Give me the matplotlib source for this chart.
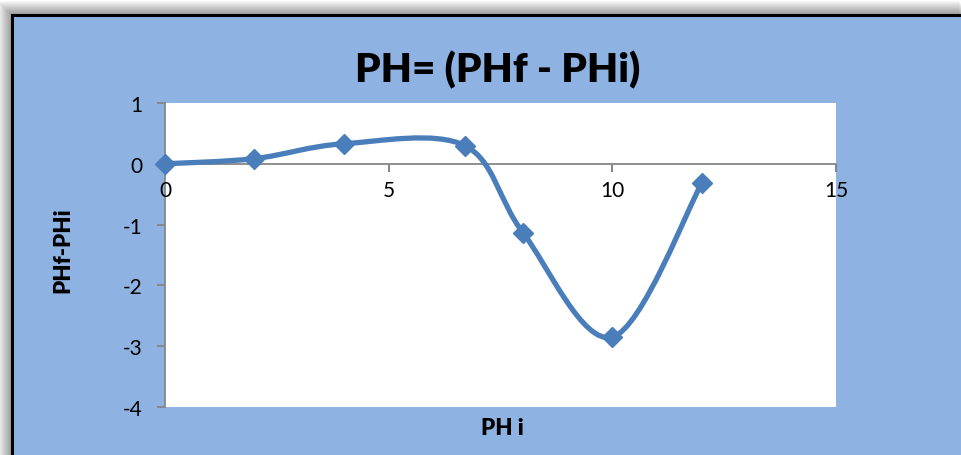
import numpy as np
import matplotlib
matplotlib.use("Agg")
import matplotlib.pyplot as plt
from matplotlib.patches import Rectangle
from matplotlib.path import Path
from matplotlib.patches import PathPatch

plt.rcParams['font.family'] = ['Lato', 'DejaVu Sans']

# pH readings
ph_initial = [0, 2, 4, 6.7, 8, 10, 12]
ph_change = [0, 0.085, 0.33, 0.30, -1.13, -2.85, -0.32]

x_ticks = [0, 5, 10, 15]
y_ticks = [-4, -3, -2, -1, 0, 1]

title_text = "PH= (PHf - PHi)"
x_label = "PH i"
y_label = "PHf-PHi"

W, H = 961, 456
fig = plt.figure(figsize=(W / 100, H / 100), dpi=100)
fig.patch.set_facecolor("white")

bg = "#8EB3E2"
line_col = "#4A7EBB"
axis_col = "#868686"

# soft shadow above and to the left of the chart frame
for i in range(14):
    off = 14 - i
    fig.patches.append(Rectangle(((12 - off) / W, 0), 1, 1 - (16 - off) / H,
                                 transform=fig.transFigure, facecolor="black",
                                 alpha=0.03, edgecolor="none", zorder=0))
# chart frame
fig.patches.append(Rectangle((12 / W, -0.01), 1.0, 1 - 16 / H + 0.01,
                             transform=fig.transFigure, facecolor=bg,
                             edgecolor="black", linewidth=2.2, zorder=1))

ax = fig.add_axes([165 / W, 1 - 408 / H, (836 - 165) / W, (408 - 104) / H])
ax.set_zorder(3)
ax.set_facecolor("white")
ax.set_xlim(0, 15)
ax.set_ylim(-4, 1)

for s in ["top", "right", "bottom"]:
    ax.spines[s].set_visible(False)
ax.spines["left"].set_color(axis_col)
ax.spines["left"].set_linewidth(1.3)
ax.axhline(0, color=axis_col, linewidth=1.3, zorder=1)

ax.set_yticks(y_ticks)
ax.set_yticklabels([str(v) for v in y_ticks], fontsize=15)
ax.tick_params(axis="y", direction="out", length=6, width=1.3, color=axis_col, pad=10)

ax.set_xticks(x_ticks)
ax.tick_params(axis="x", length=0, labelbottom=False)
for xt in x_ticks:
    ax.plot([xt, xt], [0, 0], marker=3, markersize=6, color=axis_col,
            markeredgewidth=1.3, clip_on=False, zorder=1)
    ax.annotate(str(xt), (xt, 0), xytext=(0, -12), textcoords="offset points",
                ha="center", va="top", fontsize=15)

# smooth curve through the points (Bezier with Catmull-Rom style handles, in pixel space)
fig.canvas.draw()
pts = ax.transData.transform(np.column_stack([ph_initial, ph_change]))
n = len(pts)
verts = [pts[0]]
codes = [Path.MOVETO]
for i in range(n - 1):
    p0 = pts[i - 1] if i > 0 else pts[i]
    p1 = pts[i]
    p2 = pts[i + 1]
    p3 = pts[i + 2] if i + 2 < n else pts[i + 1]
    c1 = p1 + (p2 - p0) / 6.0
    c2 = p2 - (p3 - p1) / 6.0
    verts += [c1, c2, p2]
    codes += [Path.CURVE4] * 3
verts = ax.transData.inverted().transform(np.array(verts))
ax.add_patch(PathPatch(Path(verts, codes), facecolor="none", edgecolor=line_col,
                       linewidth=3.8, capstyle="round", zorder=3, clip_on=False))
ax.plot(ph_initial, ph_change, linestyle="none", marker="D", markersize=10.5,
        color=line_col, zorder=4, clip_on=False)

fig.text(498 / W, 1 - 70 / H, title_text, ha="center", va="center",
         fontsize=29, fontweight="heavy", zorder=5)
fig.text(502 / W, 1 - 429 / H, x_label, ha="center", va="center",
         fontsize=16, fontweight="heavy", zorder=5)
fig.text(63 / W, 1 - 250 / H, y_label, ha="center", va="center", rotation=90,
         fontsize=16, fontweight="heavy", zorder=5)

fig.savefig("out.png", dpi=100)
